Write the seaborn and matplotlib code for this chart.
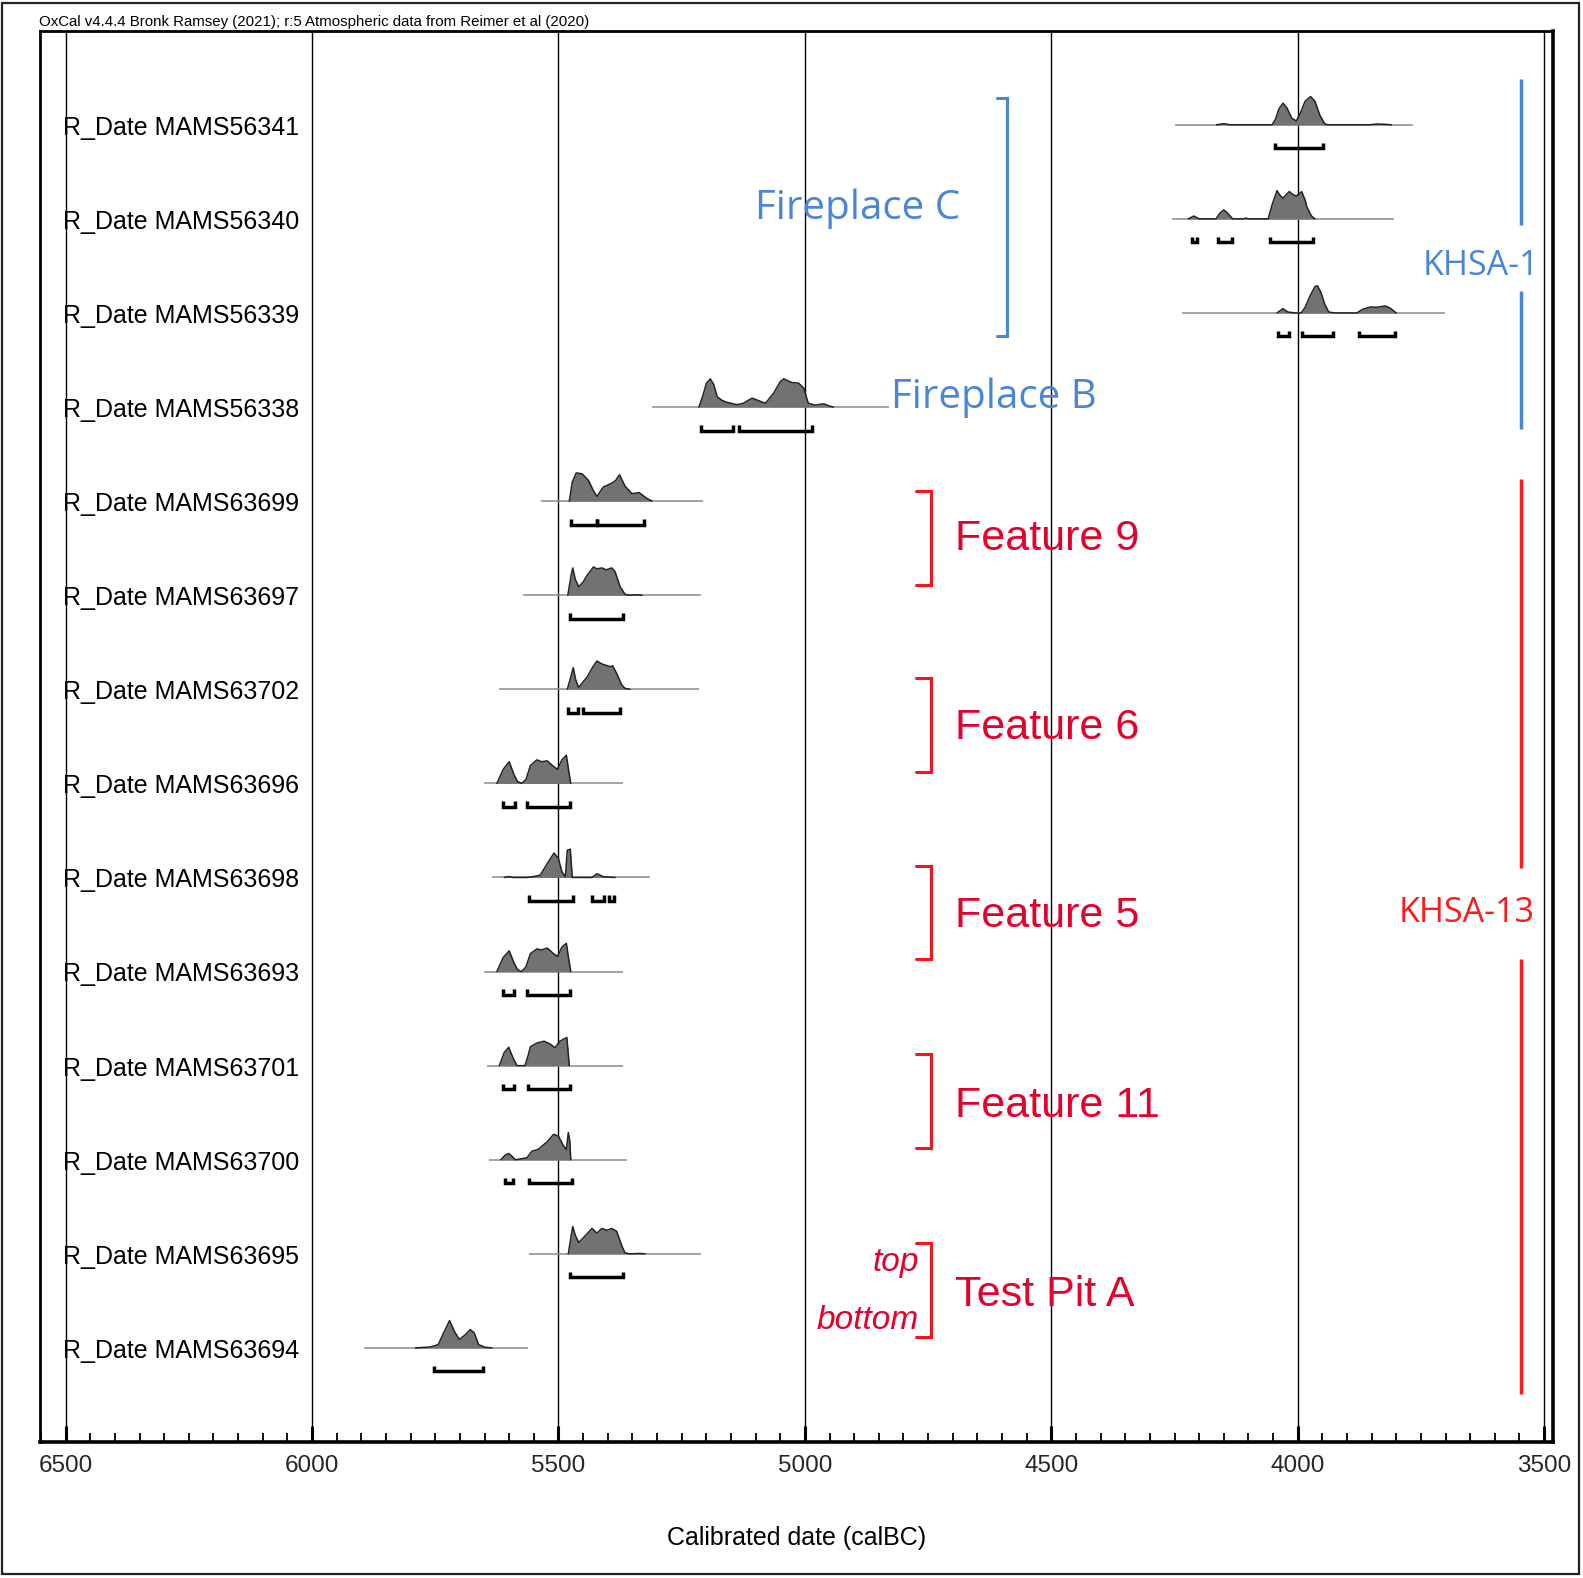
import numpy as np
import pandas as pd
import matplotlib.pyplot as plt
import matplotlib.ticker as mticker
from matplotlib.patches import Rectangle
import seaborn as sns

# --- values (years calBC, heights in row units) ---
LABELS = ['R_Date MAMS56341', 'R_Date MAMS56340', 'R_Date MAMS56339',
          'R_Date MAMS56338', 'R_Date MAMS63699', 'R_Date MAMS63697',
          'R_Date MAMS63702', 'R_Date MAMS63696', 'R_Date MAMS63698',
          'R_Date MAMS63693', 'R_Date MAMS63701', 'R_Date MAMS63700',
          'R_Date MAMS63695', 'R_Date MAMS63694']

# extent of the thin grey baseline under each distribution
SPANS = [(4250, 3766), (4255, 3805), (4234, 3702), (5310, 4830),
         (5536, 5206), (5571, 5211), (5620, 5214), (5651, 5370),
         (5635, 5315), (5651, 5370), (5645, 5369), (5640, 5360),
         (5560, 5211), (5894, 5561)]

# probability curves (year, height)
M56341 = [(4165, 0), (4150, 0.012), (4138, 0), (4052, 0), (4045, 0.06), (4038, 0.17),
          (4030, 0.23), (4022, 0.18), (4012, 0.07), (4003, 0.04), (3995, 0.12),
          (3985, 0.25), (3974, 0.30), (3965, 0.25), (3955, 0.10), (3945, 0.01),
          (3938, 0), (3855, 0), (3840, 0.008), (3825, 0.006), (3810, 0)]
M56340 = [(4222, 0), (4211, 0.03), (4200, 0), (4166, 0), (4158, 0.06), (4150, 0.095),
          (4142, 0.06), (4132, 0), (4110, 0), (4105, 0.008), (4100, 0), (4060, 0),
          (4052, 0.15), (4042, 0.30), (4036, 0.25), (4030, 0.22), (4017, 0.29),
          (4010, 0.26), (4003, 0.24), (3992, 0.29), (3985, 0.20), (3981, 0.12),
          (3972, 0.03), (3965, 0)]
M56339 = [(4042, 0), (4030, 0.046), (4020, 0.01), (4005, 0), (3993, 0), (3985, 0.06),
          (3975, 0.18), (3965, 0.28), (3960, 0.29), (3953, 0.22), (3945, 0.09),
          (3937, 0.01), (3925, 0), (3880, 0), (3868, 0.04), (3852, 0.064),
          (3840, 0.06), (3822, 0.074), (3812, 0.05), (3800, 0)]
M56338 = [(5215, 0), (5207, 0.12), (5200, 0.25), (5192, 0.30), (5185, 0.24),
          (5178, 0.11), (5168, 0.07), (5158, 0.05), (5138, 0.025), (5125, 0.04),
          (5107, 0.095), (5095, 0.07), (5080, 0.04), (5063, 0.15), (5050, 0.27),
          (5043, 0.30), (5035, 0.28), (5026, 0.26), (5013, 0.255), (5002, 0.2),
          (4996, 0.09), (4993, 0.04), (4979, 0.02), (4962, 0.035), (4950, 0.01),
          (4942, 0)]
M63699 = [(5478, 0), (5472, 0.2), (5464, 0.30), (5452, 0.29), (5439, 0.22),
          (5430, 0.12), (5422, 0.05), (5409, 0.15), (5392, 0.19), (5384, 0.22),
          (5376, 0.28), (5365, 0.16), (5351, 0.08), (5336, 0.09), (5321, 0.03),
          (5310, 0)]
M63697 = [(5481, 0), (5474, 0.22), (5471, 0.29), (5466, 0.17), (5459, 0.09),
          (5450, 0.14), (5442, 0.21), (5429, 0.30), (5422, 0.28), (5412, 0.29),
          (5403, 0.27), (5392, 0.29), (5385, 0.25), (5375, 0.09), (5365, 0.01),
          (5355, 0), (5340, 0.005), (5330, 0)]
M63702 = [(5482, 0), (5474, 0.15), (5470, 0.23), (5465, 0.10), (5459, 0.02),
          (5442, 0.13), (5430, 0.24), (5422, 0.30), (5412, 0.27), (5395, 0.24),
          (5390, 0.25), (5382, 0.17), (5372, 0.05), (5365, 0.01), (5355, 0)]
M63696 = [(5625, 0), (5612, 0.15), (5600, 0.23), (5590, 0.09), (5583, 0.02),
          (5575, 0), (5566, 0.04), (5557, 0.19), (5544, 0.25), (5534, 0.23),
          (5523, 0.24), (5510, 0.18), (5502, 0.15), (5493, 0.25), (5484, 0.30),
          (5480, 0.16), (5475, 0)]
M63698 = [(5610, 0), (5601, 0.01), (5592, 0), (5565, 0), (5550, 0.01), (5537, 0.025),
          (5520, 0.17), (5509, 0.26), (5500, 0.2), (5493, 0.06), (5486, 0.01),
          (5482, 0.29), (5476, 0.30), (5472, 0), (5432, 0), (5422, 0.04),
          (5410, 0.01), (5402, 0.005), (5385, 0)]
M63693 = [(5625, 0), (5612, 0.15), (5600, 0.22), (5590, 0.09), (5583, 0.02),
          (5575, 0), (5566, 0.05), (5557, 0.19), (5544, 0.24), (5534, 0.23),
          (5523, 0.25), (5510, 0.19), (5502, 0.16), (5493, 0.26), (5484, 0.30),
          (5480, 0.16), (5475, 0)]
M63701 = [(5620, 0), (5610, 0.14), (5601, 0.195), (5592, 0.08), (5584, 0),
          (5568, 0), (5562, 0.1), (5557, 0.2), (5544, 0.24), (5529, 0.26),
          (5517, 0.23), (5507, 0.19), (5497, 0.26), (5483, 0.30), (5478, 0)]
M63700 = [(5617, 0), (5608, 0.05), (5601, 0.067), (5593, 0.03), (5588, 0),
          (5564, 0.02), (5554, 0.09), (5541, 0.11), (5530, 0.16), (5523, 0.19),
          (5510, 0.27), (5500, 0.25), (5490, 0.15), (5484, 0.11), (5480, 0.29),
          (5477, 0.2), (5475, 0)]
M63695 = [(5480, 0), (5474, 0.2), (5471, 0.29), (5466, 0.2), (5459, 0.12),
          (5446, 0.19), (5432, 0.27), (5422, 0.22), (5412, 0.27), (5402, 0.25),
          (5392, 0.27), (5382, 0.24), (5371, 0.08), (5365, 0.01), (5355, 0),
          (5334, 0.004), (5324, 0)]
M63694 = [(5790, 0), (5760, 0.01), (5744, 0.035), (5733, 0.16), (5721, 0.29),
          (5710, 0.165), (5701, 0.09), (5689, 0.14), (5679, 0.195), (5671, 0.16),
          (5662, 0.035), (5649, 0.007), (5635, 0)]

CURVES = [M56341, M56340, M56339, M56338, M63699, M63697, M63702,
          M63696, M63698, M63693, M63701, M63700, M63695, M63694]

# 95.4% ranges under each curve
RANGES = [[(4047, 3948)],
          [(4214, 4204), (4162, 4133), (4057, 3969)],
          [(4040, 4017), (3992, 3929), (3875, 3802)],
          [(5211, 5145), (5133, 4986)],
          [(5475, 5422), (5421, 5327)],
          [(5476, 5369)],
          [(5480, 5460), (5451, 5375)],
          [(5613, 5588), (5564, 5476)],
          [(5560, 5470), (5432, 5407), (5397, 5387)],
          [(5613, 5590), (5564, 5476)],
          [(5612, 5591), (5561, 5476)],
          [(5608, 5593), (5559, 5473)],
          [(5476, 5369)],
          [(5752, 5654)]]

HEADER = 'OxCal v4.4.4 Bronk Ramsey (2021); r:5 Atmospheric data from Reimer et al (2020)'
X_LABEL = 'Calibrated date (calBC)'

BLUE = '#4a86d8'
RED_TXT = '#e4002b'
RED_LINE = '#f5141e'

sns.set_theme(style='white')
plt.rcParams['font.family'] = ['Liberation Sans', 'DejaVu Sans']

W, H = 1583, 1578
fig = plt.figure(figsize=(W / 100, H / 100), dpi=100)
ax = fig.add_axes([40 / W, 1 - 1442 / H, (1553 - 40) / W, (1442 - 30.7) / H])

ax.set_xlim(6552, 3482)
ax.set_ylim(14, -1)

# grid + ticks
ax.xaxis.set_major_locator(mticker.MultipleLocator(500))
ax.xaxis.set_minor_locator(mticker.MultipleLocator(50))
ax.xaxis.set_major_formatter(mticker.FormatStrFormatter('%d'))
ax.grid(axis='x', which='major', color='black', lw=1.0, zorder=1)
ax.grid(axis='y', visible=False)
ax.set_axisbelow(True)
ax.tick_params(axis='x', which='major', direction='in', length=11.5, width=2.2,
               color='black', labelsize=17.5, pad=9, bottom=True, top=False)
ax.tick_params(axis='x', which='minor', direction='in', length=6.5, width=1.3,
               color='black', bottom=True, top=False)
ax.tick_params(axis='y', left=False, labelleft=False)
for sp in ax.spines.values():
    sp.set_visible(True)
    sp.set_color('black')
    sp.set_linewidth(2.0)
ax.spines['bottom'].set_linewidth(2.6)
ax.spines['right'].set_linewidth(2.6)
ax.set_xlabel(X_LABEL, fontsize=18, labelpad=36, color='black')

# distributions
for row, (name, span, curve, rngs) in enumerate(zip(LABELS, SPANS, CURVES, RANGES)):
    ax.plot(list(span), [row, row], color='#8a8a8a', lw=1.1, zorder=2,
            solid_capstyle='butt')
    df = pd.DataFrame(curve, columns=['year', 'h'])
    df['y'] = row - df['h']
    ax.fill_between(df['year'], row, df['y'], color='#727272', lw=0, zorder=3)
    sns.lineplot(data=df, x='year', y='y', sort=False, estimator=None,
                 color='#222222', lw=1.1, ax=ax, zorder=4)
    for a, b in rngs:
        ax.plot([a, a, b, b], [row + 0.19, row + 0.25, row + 0.25, row + 0.19],
                color='black', lw=2.5, solid_joinstyle='miter',
                solid_capstyle='butt', zorder=4)
    ax.text(6506, row + 0.105, name, fontsize=18, ha='left', va='baseline',
            color='black', zorder=5)

ax.set_ylabel('')

# blue groups
ax.plot([4611, 4589, 4589, 4611], [-0.29, -0.29, 2.25, 2.25], color=BLUE, lw=2.2,
        solid_joinstyle='miter', zorder=4)
ax.text(4894, 0.84, 'Fireplace C', color=BLUE, fontsize=29, ha='center',
        va='center_baseline', family=['Open Sans', 'DejaVu Sans'], zorder=5)
ax.text(4617, 2.85, 'Fireplace B', color=BLUE, fontsize=29, ha='center',
        va='center_baseline', family=['Open Sans', 'DejaVu Sans'], zorder=5)
ax.plot([3546, 3546], [-0.485, 1.07], color=BLUE, lw=2.5, solid_capstyle='butt', zorder=4)
ax.plot([3546, 3546], [1.77, 3.23], color=BLUE, lw=2.5, solid_capstyle='butt', zorder=4)
ax.text(3629, 1.46, 'KHSA-1', color=BLUE, fontsize=24.5, ha='center',
        va='center_baseline', family=['Open Sans', 'DejaVu Sans'], zorder=5)

# red groups
for top, bot in [(3.89, 4.89), (5.88, 6.88), (7.88, 8.87), (9.88, 10.88), (11.89, 12.88)]:
    ax.plot([4775, 4744, 4744, 4775], [top, top, bot, bot], color=RED_LINE, lw=2.2,
            solid_joinstyle='miter', zorder=4)
for txt, yy in [('Feature 9', 4.35), ('Feature 6', 6.36), ('Feature 5', 8.36),
                ('Feature 11', 10.38), ('Test Pit A', 12.39)]:
    ax.text(4695, yy, txt, color=RED_TXT, fontsize=31, ha='left',
            va='center_baseline', zorder=5)
ax.text(4769, 12.06, 'top', color=RED_TXT, fontsize=24, style='italic',
        ha='right', va='center_baseline', zorder=5)
ax.text(4769, 12.67, 'bottom', color=RED_TXT, fontsize=24, style='italic',
        ha='right', va='center_baseline', zorder=5)
ax.plot([3546, 3546], [3.77, 7.9], color='#ff1a1a', lw=2.5, solid_capstyle='butt', zorder=4)
ax.plot([3546, 3546], [8.87, 13.49], color='#ff1a1a', lw=2.5, solid_capstyle='butt', zorder=4)
ax.text(3657, 8.34, 'KHSA-13', color='#ff1a1a', fontsize=24.5, ha='center',
        va='center_baseline', family=['Open Sans', 'DejaVu Sans'], zorder=5)

# header + outer frame
fig.text(39 / W, 1 - 22 / H, HEADER, fontsize=10.8, ha='left', va='center', color='black')
fig.patches.append(Rectangle((2 / W, 1 - 1574 / H), 1577 / W, 1571 / H,
                             transform=fig.transFigure, fill=False,
                             edgecolor='#222222', lw=1.6))

fig.savefig('out.png', dpi=100, facecolor='white')
